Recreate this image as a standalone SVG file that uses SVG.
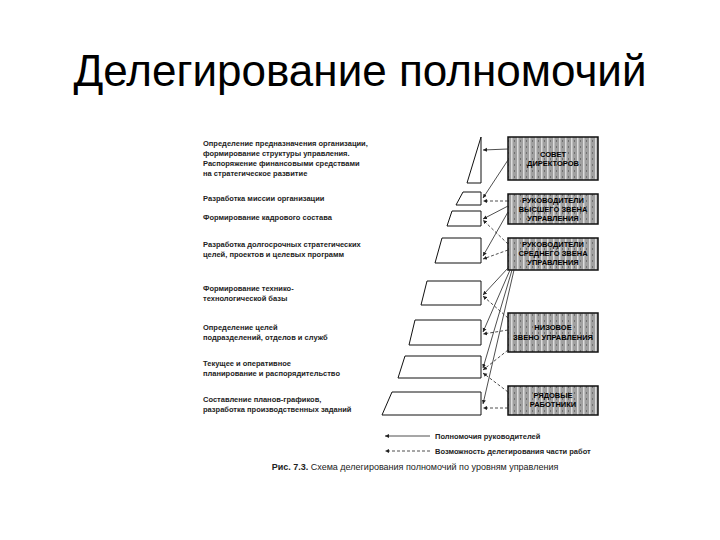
<svg xmlns="http://www.w3.org/2000/svg" width="720" height="540" viewBox="0 0 720 540">
<style>
.t{font-family:"Liberation Sans",Arial,sans-serif;font-size:7.5px;font-weight:bold;fill:#222}
.b{font-family:"Liberation Sans",Arial,sans-serif;font-size:7.5px;font-weight:bold;fill:#000;text-anchor:middle}
.sh{fill:#fff;stroke:#111;stroke-width:1}
.bx{fill:url(#tex);stroke:#111;stroke-width:1.5}
.s{stroke:#222;stroke-width:0.8;fill:none;marker-end:url(#ah)}
.d{stroke:#222;stroke-width:0.8;fill:none;stroke-dasharray:3 2;marker-end:url(#ah)}
</style>
<defs>
<pattern id="tex" width="6" height="6" patternUnits="userSpaceOnUse">
<rect width="6" height="6" fill="#a0a0a0"/><rect x="1" width="1.5" height="6" fill="#dcdcdc"/><rect x="4" y="2" width="1" height="2" fill="#707070"/>
</pattern>
<marker id="ah" markerWidth="6" markerHeight="6" refX="5" refY="3" orient="auto"><path d="M0,0.5 L5,3 L0,5.5z" fill="#222"/></marker>
</defs>
<rect width="720" height="540" fill="#fff"/>
<text x="360" y="86" text-anchor="middle" font-family="Liberation Sans,Arial,sans-serif" font-size="44" fill="#000">Делегирование полномочий</text>
<g id="labels">
<text class="t" x="203" y="146">Определение предназначения организации,</text>
<text class="t" x="203" y="156">формирование структуры управления.</text>
<text class="t" x="203" y="166">Распоряжение финансовыми средствами</text>
<text class="t" x="203" y="176">на стратегическое развитие</text>
<text class="t" x="203" y="201">Разработка миссии организации</text>
<text class="t" x="203" y="220">Формирование кадрового состава</text>
<text class="t" x="203" y="247">Разработка долгосрочных стратегических</text>
<text class="t" x="203" y="257">целей, проектов и целевых программ</text>
<text class="t" x="203" y="291">Формирование технико-</text>
<text class="t" x="203" y="301">технологической базы</text>
<text class="t" x="203" y="330">Определение целей</text>
<text class="t" x="203" y="340">подразделений, отделов и служб</text>
<text class="t" x="203" y="366">Текущее и оперативное</text>
<text class="t" x="203" y="376">планирование и распорядительство</text>
<text class="t" x="203" y="402">Составление планов-графиков,</text>
<text class="t" x="203" y="412">разработка производственных заданий</text>
</g>
<g id="shapes">
<path class="sh" d="M481,137 L467,183 L481,183z"/>
<path class="sh" d="M463,192 L481,192 L481,205 L456,205z"/>
<path class="sh" d="M452,211 L481,211 L481,226 L447,226z"/>
<path class="sh" d="M442,238 L481,238 L481,263 L435,263z"/>
<path class="sh" d="M427,281 L481,281 L481,305 L421,305z"/>
<path class="sh" d="M415,320 L481,320 L481,345 L409,345z"/>
<path class="sh" d="M405,356 L481,356 L481,378 L398,378z"/>
<path class="sh" d="M392,392 L481,392 L481,415 L382,415z"/>
</g>
<g id="boxes">
<rect class="bx" x="508" y="137" width="90" height="43"/>
<text class="b" x="553" y="157">СОВЕТ</text><text class="b" x="553" y="166">ДИРЕКТОРОВ</text>
<rect class="bx" x="508" y="194" width="90" height="30"/>
<text class="b" x="553" y="203">РУКОВОДИТЕЛИ</text><text class="b" x="553" y="212">ВЫСШЕГО ЗВЕНА</text><text class="b" x="553" y="221">УПРАВЛЕНИЯ</text>
<rect class="bx" x="508" y="238" width="90" height="32"/>
<text class="b" x="553" y="247">РУКОВОДИТЕЛИ</text><text class="b" x="553" y="256">СРЕДНЕГО ЗВЕНА</text><text class="b" x="553" y="265">УПРАВЛЕНИЯ</text>
<rect class="bx" x="508" y="313" width="90" height="39"/>
<text class="b" x="553" y="330">НИЗОВОЕ</text><text class="b" x="553" y="340">ЗВЕНО УПРАВЛЕНИЯ</text>
<rect class="bx" x="508" y="386" width="90" height="29"/>
<text class="b" x="553" y="398">РЯДОВЫЕ</text><text class="b" x="553" y="407">РАБОТНИКИ</text>
</g>
<g id="connectors">
<path class="s" d="M508,149 L483,150"/>
<path class="s" d="M508,160 L483,198"/>
<path class="d" d="M508,201 L483,201"/>
<path class="s" d="M508,206 L483,219"/>
<path class="s" d="M508,212 L483,256"/>
<path class="d" d="M508,244 L483,220"/>
<path class="d" d="M508,250 L483,259"/>
<path class="s" d="M508,268 L483,295"/>
<path class="s" d="M510,270 L483,332"/>
<path class="s" d="M512,270 L483,368"/>
<path class="s" d="M514,270 L483,404"/>
<path class="d" d="M508,318 L483,296"/>
<path class="d" d="M508,330 L483,334"/>
<path class="d" d="M508,350 L483,370"/>
<path class="d" d="M508,392 L483,373"/>
<path class="d" d="M508,408 L483,408"/>
</g>
<g id="legend">
<path class="s" d="M430,436 L385,436"/>
<text class="t" x="435" y="439">Полномочия руководителей</text>
<path class="d" d="M430,451 L385,451"/>
<text class="t" x="435" y="454">Возможность делегирования части работ</text>
<text x="415" y="470" text-anchor="middle" font-family="Liberation Sans,Arial,sans-serif" font-size="9" fill="#222"><tspan font-weight="bold">Рис. 7.3.</tspan> Схема делегирования полномочий по уровням управления</text>
</g>
</svg>
